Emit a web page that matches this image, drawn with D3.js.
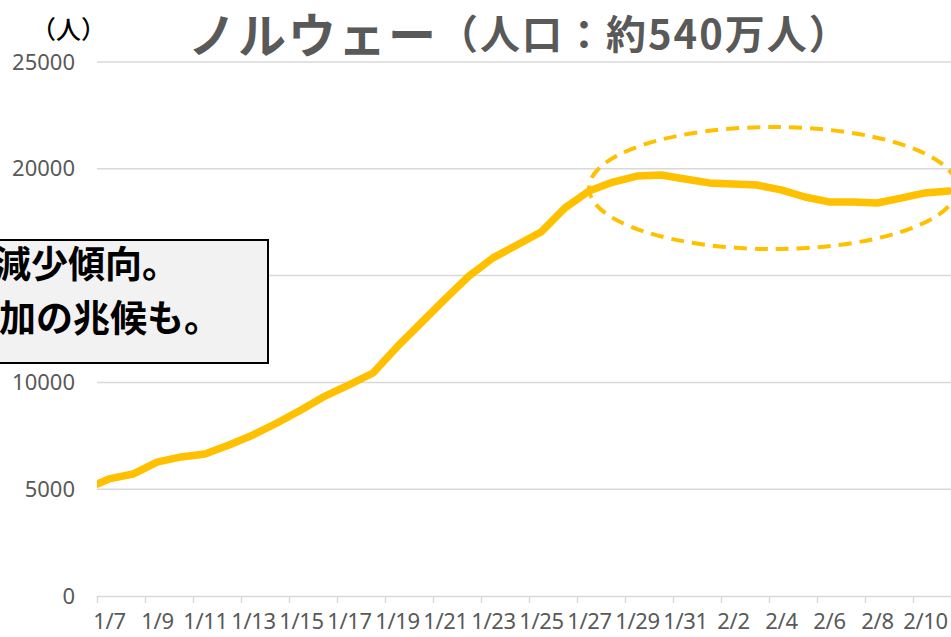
<!DOCTYPE html>
<html>
<head>
<meta charset="utf-8">
<script src="https://cdn.jsdelivr.net/npm/d3@7"></script>
<style>
  html, body { margin: 0; padding: 0; background: #fff; overflow: hidden; }
  text { font-family: "Noto Sans", "Noto Sans CJK JP", sans-serif; }
  .jp { font-family: "Noto Sans CJK JP", "Noto Sans", sans-serif; }
</style>
</head>
<body>
<svg id="chart" width="951" height="637"></svg>
<script>
// 日付（1/6 はプロット領域の左端で切れている）
const dates = ["1/6", "1/7", "1/8", "1/9", "1/10", "1/11", "1/12", "1/13", "1/14", "1/15", "1/16",
  "1/17", "1/18", "1/19", "1/20", "1/21", "1/22", "1/23", "1/24", "1/25", "1/26", "1/27",
  "1/28", "1/29", "1/30", "1/31", "2/1", "2/2", "2/3", "2/4", "2/5", "2/6", "2/7", "2/8",
  "2/9", "2/10", "2/11"];
const values = [5000, 5480, 5710, 6270, 6510, 6650, 7070, 7540, 8100, 8710, 9360,
  9880, 10440, 11660, 12780, 13900, 14980, 15830, 16430, 17040, 18170, 18960,
  19380, 19660, 19710, 19520, 19340, 19290, 19240, 19010, 18680, 18450, 18450, 18400,
  18630, 18870, 18960];
const gridTicks = [5000, 10000, 15000, 20000, 25000];
const yLabels = [0, 5000, 10000, 20000, 25000];  // 15000 は注釈ボックスに隠れている
const labelDates = ["1/7", "1/9", "1/11", "1/13", "1/15", "1/17", "1/19", "1/21", "1/23",
  "1/25", "1/27", "1/29", "1/31", "2/2", "2/4", "2/6", "2/8", "2/10"];

const svg = d3.select("#chart");
const plotLeft = 97, plotRight = 961, plotTop = 62, plotBottom = 596;
const lineColor = "#FFC000";

const x = d3.scaleLinear().domain([0.5, dates.length - 0.5]).range([plotLeft, plotRight]);
const y = d3.scaleLinear().domain([0, 25000]).range([plotBottom, plotTop]);

// 目盛線
svg.append("g")
  .selectAll("line")
  .data(gridTicks)
  .join("line")
  .attr("x1", plotLeft).attr("x2", plotRight)
  .attr("y1", d => y(d)).attr("y2", d => y(d))
  .attr("stroke", "#d9d9d9").attr("stroke-width", 1.5);

// y軸ラベル
const yAxis = d3.axisLeft(y).tickValues(yLabels).tickSize(0).tickPadding(22).tickFormat(d3.format("d"));
const gy = svg.append("g").attr("transform", `translate(${plotLeft},0)`).call(yAxis);
gy.select(".domain").remove();
gy.selectAll("text").attr("fill", "#595959").style("font-size", "22px");

// x軸（区切り目盛）
const boundaries = d3.range(0.5, dates.length, 2);
const gx = svg.append("g").attr("transform", `translate(0,${plotBottom})`)
  .call(d3.axisBottom(x).tickValues(boundaries).tickSize(7).tickSizeOuter(0).tickFormat(""));
gx.select(".domain").attr("stroke", "#d9d9d9").attr("stroke-width", 1.5);
gx.selectAll(".tick line").attr("stroke", "#d9d9d9").attr("stroke-width", 1.5);

// x軸ラベル
const gxl = svg.append("g").attr("transform", `translate(0,${plotBottom})`)
  .call(d3.axisBottom(x).tickValues(labelDates.map(d => dates.indexOf(d)))
    .tickSize(0).tickPadding(17).tickFormat(i => dates[i]));
gxl.select(".domain").remove();
gxl.selectAll("text").attr("fill", "#595959").style("font-size", "22px").attr("letter-spacing", "-0.3px");

// プロット領域でクリップ
svg.append("clipPath").attr("id", "plot")
  .append("rect").attr("x", plotLeft).attr("y", 0).attr("width", plotRight - plotLeft).attr("height", plotBottom);

const line = d3.line().x((d, i) => x(i)).y(d => y(d));
svg.append("path")
  .attr("clip-path", "url(#plot)")
  .attr("d", line(values))
  .attr("fill", "none")
  .attr("stroke", lineColor)
  .attr("stroke-width", 7.5)
  .attr("stroke-linejoin", "round")
  .attr("stroke-linecap", "round");

// 点線の楕円（横ばい部分の強調）
svg.append("ellipse")
  .attr("cx", x(28.67)).attr("cy", y(19100))
  .attr("rx", 184).attr("ry", 61)
  .attr("fill", "none")
  .attr("stroke", lineColor)
  .attr("stroke-width", 4)
  .attr("stroke-dasharray", "13,8");

// 注釈ボックス
svg.append("rect")
  .attr("x", -10).attr("y", 240).attr("width", 278).attr("height", 123)
  .attr("fill", "#f2f2f2").attr("stroke", "#000").attr("stroke-width", 2);
svg.append("text").attr("class", "jp")
  .attr("x", -6).attr("y", 262).attr("dominant-baseline", "central")
  .style("font-size", "37px").style("font-weight", "bold").attr("fill", "#000")
  .text("減少傾向。");
svg.append("text").attr("class", "jp")
  .attr("x", -1).attr("y", 316).attr("dominant-baseline", "central")
  .style("font-size", "37px").style("font-weight", "bold").attr("fill", "#000")
  .text("加の兆候も。");

// 単位
svg.append("text").attr("class", "jp")
  .attr("x", 31).attr("y", 28).attr("dominant-baseline", "central")
  .style("font-size", "25px").style("font-weight", "500").attr("fill", "#000")
  .text("（人）");

// タイトル
const title = svg.append("text").attr("class", "jp")
  .attr("x", 188).attr("y", 32).attr("dominant-baseline", "central")
  .attr("fill", "#595959").style("font-weight", "bold");
title.append("tspan").style("font-size", "48px").attr("letter-spacing", "2px").text("ノルウェー");
title.append("tspan").style("font-size", "40px").attr("letter-spacing", "2px").text("（人口：約540万人）");
</script>
</body>
</html>
